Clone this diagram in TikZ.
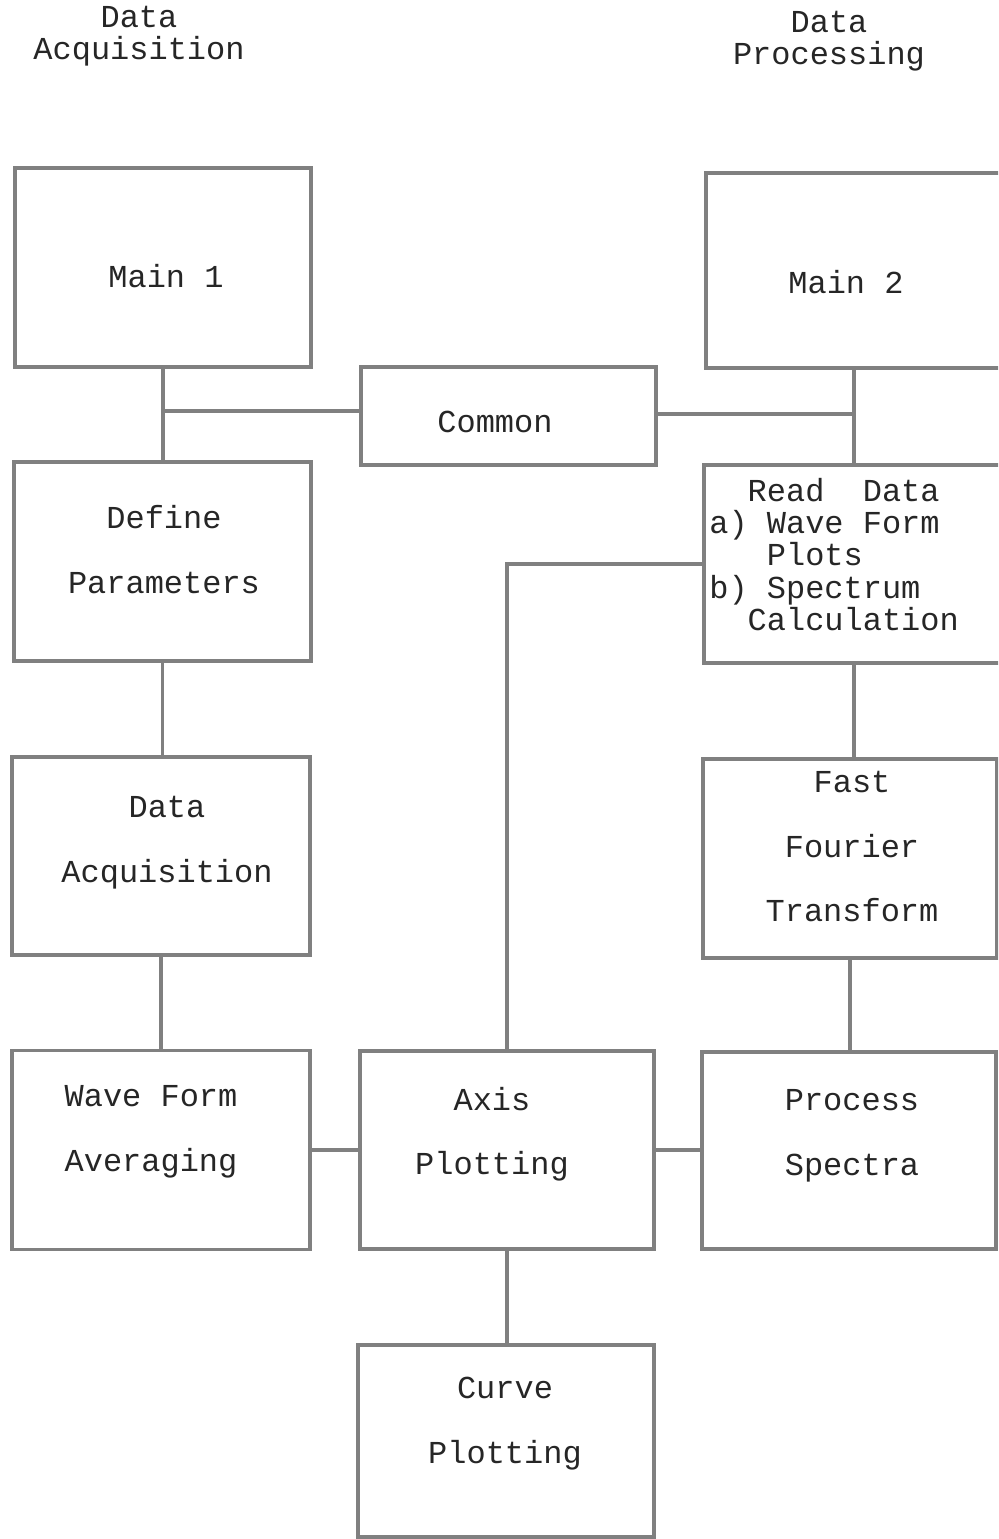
\documentclass[tikz,border=0pt]{standalone}
\usepackage{fontspec}
\setmainfont{Liberation Mono}
\usepackage{tikz}

\begin{document}
\begin{tikzpicture}[x=0.02cm,y=-0.02cm]
\tikzset{
	box node/.style = {draw = black!50, line width = 2.2pt, inner sep = 0},
	text node/.style = {inner sep = 0, text = black!85, align = center, font = \fontsize{18.2}{18.3}\selectfont},
	link/.style = {draw = black!50, line width = 2.2pt},
}

\clip (0,0) rectangle (998,1539);
\fill[white] (0,0) rectangle (998,1539);

\node (head1)[text node] at (139,36) {Data\\Acquisition};
\node (head2)[text node] at (829,41) {Data\\Processing};

\node (main1)[box node, minimum width = 5.92cm, minimum height = 3.98cm] at (163,267.5) {};
\node (main2)[box node, minimum width = 5.96cm, minimum height = 3.90cm] at (855,270.5) {};
\node (common)[box node, minimum width = 5.90cm, minimum height = 1.96cm] at (508.5,416) {};
\node (define)[box node, minimum width = 5.94cm, minimum height = 3.98cm] at (162.5,561.5) {};
\node (read)[box node, minimum width = 6.00cm, minimum height = 3.96cm] at (854,564) {};
\node (acq)[box node, minimum width = 5.96cm, minimum height = 3.96cm] at (161,856) {};
\node (fft)[box node, minimum width = 5.88cm, minimum height = 3.98cm] at (850,858.5) {};
\node (wave)[box node, minimum width = 5.96cm, minimum height = 3.98cm] at (161,1150) {};
\node (axis)[box node, minimum width = 5.88cm, minimum height = 3.96cm] at (507,1150) {};
\node (proc)[box node, minimum width = 5.88cm, minimum height = 3.94cm] at (849,1150.5) {};
\node (curve)[box node, minimum width = 5.92cm, minimum height = 3.84cm] at (506,1441) {};

\node (main1 text)[text node] at (166,276) {Main 1};
\node (main2 text)[text node] at (846,282) {Main 2};
\node (common text)[text node] at (495,422) {Common};
\node (define text)[text node] at (164,549.5) {Define\\[18.4pt]Parameters};
\node (read text)[text node, align = left, anchor = west] at (709,554.5)
	{\phantom{xx}Read~~Data\\a) Wave Form\\\phantom{xxx}Plots\\b) Spectrum\\\phantom{xx}Calculation};
\node (acq text)[text node] at (167,842.5) {Data\\[18.4pt]Acquisition};
\node (fft text)[text node] at (852,846.5) {Fast\\[18.4pt]Fourier\\[18.4pt]Transform};
\node (wave text)[text node] at (151,1132) {Wave Form\\[18.4pt]Averaging};
\node (axis text)[text node] at (492,1134) {Axis\\[18.4pt]Plotting};
\node (proc text)[text node] at (852,1136) {Process\\[18.4pt]Spectra};
\node (curve text)[text node] at (505,1423.5) {Curve\\[18.4pt]Plotting};

\draw[link] (main1.south) -- (main1.south |- define.north);
\draw[link] ([yshift=0.1cm]common.west) -- ([yshift=0.1cm]common.west -| main1.south);
\draw[link] ([yshift=0.04cm]common.east) -- ([yshift=0.04cm]common.east -| read.north);
\draw[link] (main2.south -| read.north) -- (read.north);
\draw[link] (read.west) -| (axis.north);
\draw[link] (define.south) -- (define.south |- acq.north);
\draw[link] (acq.south) -- (wave.north);
\draw[link] (read.south) -- (read.south |- fft.north);
\draw[link] (fft.south) -- (fft.south |- proc.north);
\draw[link] (wave.east) -- (wave.east -| axis.west);
\draw[link] (axis.east) -- (axis.east -| proc.west);
\draw[link] (axis.south) -- (axis.south |- curve.north);

\end{tikzpicture}
\end{document}
